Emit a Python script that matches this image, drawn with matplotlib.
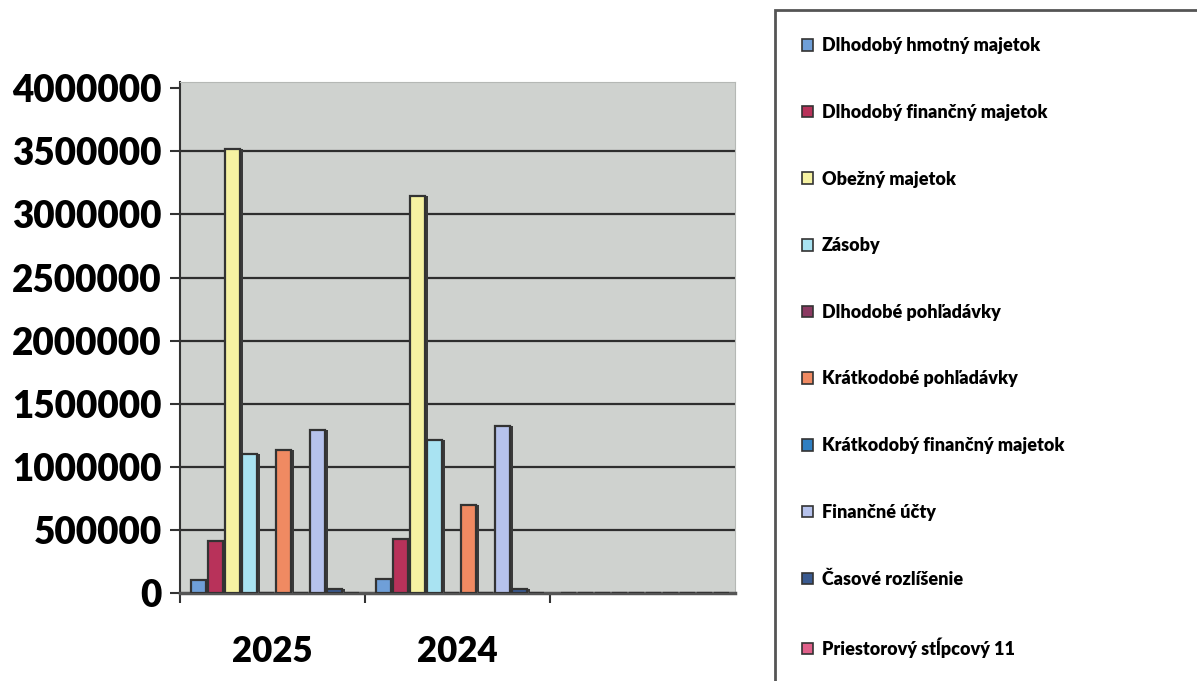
'''Grouped bar chart of asset items for 2025 and 2024.'''
import numpy as np
import matplotlib.pyplot as plt
from matplotlib.patches import Rectangle, Patch

plt.rcParams['font.family'] = ['Lato', 'DejaVu Sans']
plt.rcParams['font.weight'] = 'bold'

years = ['2025', '2024', '']
series_names = [
    'Dlhodobý hmotný majetok',
    'Dlhodobý finančný majetok',
    'Obežný majetok',
    'Zásoby',
    'Dlhodobé pohľadávky',
    'Krátkodobé pohľadávky',
    'Krátkodobý finančný majetok',
    'Finančné účty',
    'Časové rozlíšenie',
    'Priestorový stĺpcový 11',
]
# values per series for 2025, 2024 and the empty third slot
hmotny = [100000, 110000, 0]
financny = [412000, 425000, 0]
obezny = [3520000, 3150000, 0]
zasoby = [1100000, 1210000, 0]
dlhodobe_pohl = [0, 0, 0]
kratkodobe_pohl = [1130000, 700000, 0]
kratkodoby_fin = [0, 0, 0]
financne_ucty = [1290000, 1320000, 0]
casove = [30000, 35000, 0]
priestorovy = [0, 0, 0]
values = [hmotny, financny, obezny, zasoby, dlhodobe_pohl,
          kratkodobe_pohl, kratkodoby_fin, financne_ucty, casove, priestorovy]
colors = ['#6f9fd8', '#b8325a', '#f6f2a2', '#a9e3f2', '#8b3a62',
          '#f08a62', '#2f7fc2', '#b6c2ec', '#3a5a90', '#e0608a']

fig = plt.figure(figsize=(11.97, 6.81), dpi=100)
ax = fig.add_axes([180 / 1197, 1 - 593 / 681, 555 / 1197, 511 / 681])
ax.set_facecolor('#cfd2cf')

x = np.arange(len(years))
slot = 0.092
width = 0.078
for i, (vals, col) in enumerate(zip(values, colors)):
    pos = x - 0.5 + 0.06 + slot * i + width / 2
    # dark side face gives the old 3D look
    ax.bar(pos + 0.02, vals, width, color='#3a3a3a', zorder=2)
    ax.bar(pos, vals, width, color=col, edgecolor='#333333', linewidth=1.6, zorder=3)

ax.set_xlim(-0.5, 2.5)
ax.set_ylim(0, 4050000)
yt = np.arange(0, 4000001, 500000)
ax.set_yticks(yt)
ax.set_yticklabels([str(v) for v in yt], fontsize=26.5, fontweight='heavy')
ax.set_xticks(x)
ax.set_xticklabels(years, fontsize=25, fontweight='heavy')
ax.tick_params(axis='x', length=0, pad=30)
ax.set_xticks([-0.5, 0.5, 1.5], minor=True)
ax.tick_params(axis='x', which='minor', length=7, width=1.5, color='#333333')
ax.tick_params(axis='y', length=7, width=1.5, color='#333333', pad=6)

ax.yaxis.grid(True, color='#2e2e2e', linewidth=1.6, zorder=1)
ax.set_axisbelow(True)
ax.get_ygridlines()[-1].set_visible(False)
ax.get_ygridlines()[0].set_visible(False)
for side in ['top', 'right']:
    ax.spines[side].set_color('#b5b8b5')
ax.spines['left'].set_color('#333333')
ax.spines['left'].set_linewidth(1.5)
ax.spines['bottom'].set_color('#555555')
ax.spines['bottom'].set_linewidth(2.5)

# legend box
fig.patches.append(Rectangle((775 / 1197, -0.01), 0.4, 1 - 10 / 681 + 0.01,
                             transform=fig.transFigure, fill=False,
                             edgecolor='#555555', linewidth=2))
handles = [Patch(facecolor=c, edgecolor='#333333', linewidth=1.2) for c in colors]
fig.legend(handles, series_names, loc='upper left', frameon=False,
           bbox_to_anchor=(795 / 1197, 1 - 30 / 681),
           prop={'size': 13, 'weight': 'heavy'},
           handlelength=0.6, handleheight=0.6, handletextpad=0.5,
           labelspacing=2.75, borderaxespad=0)

fig.savefig('out.png', dpi=100)
